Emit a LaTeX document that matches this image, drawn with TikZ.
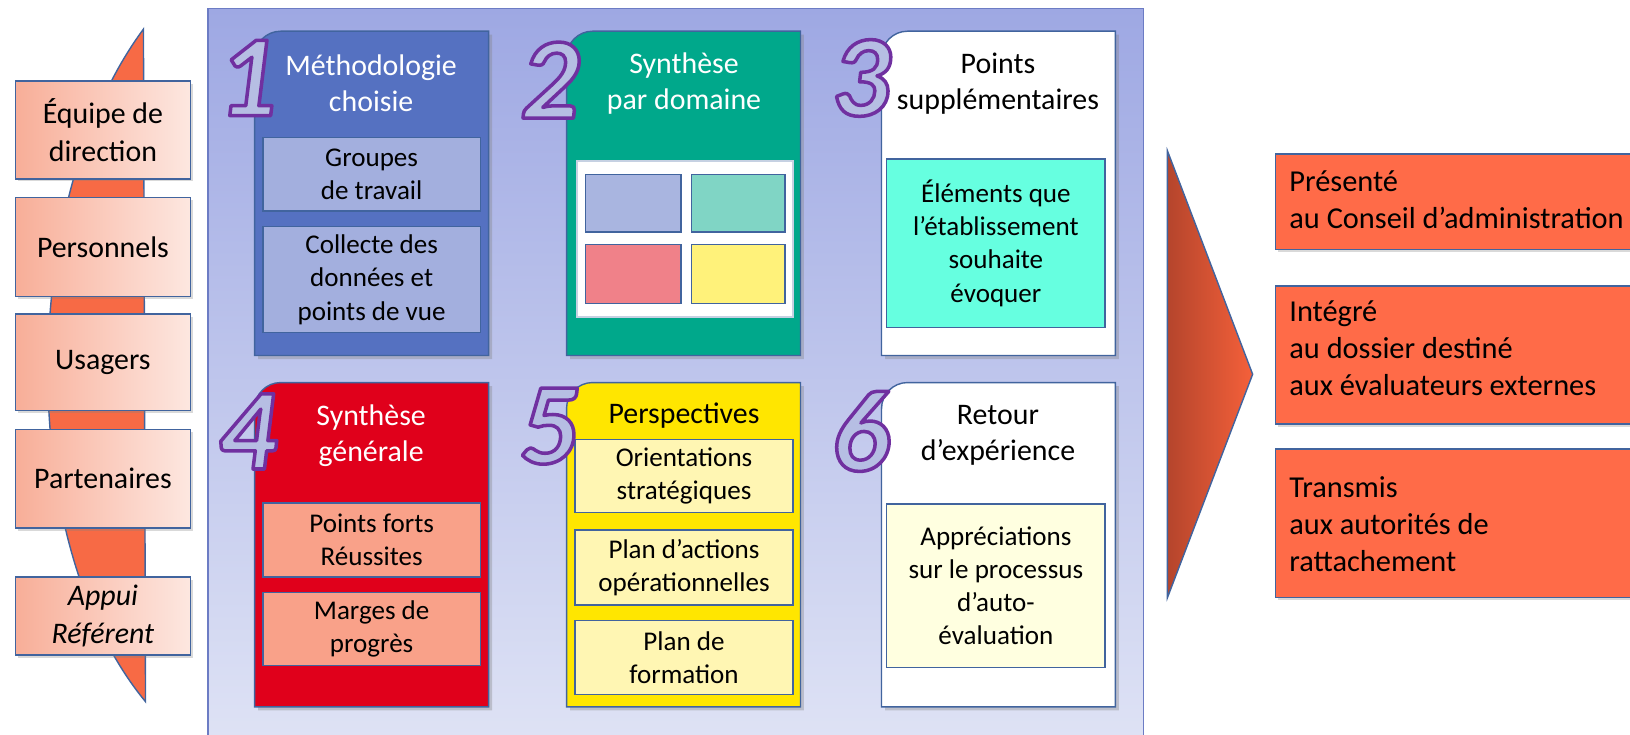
\documentclass[tikz,border=0pt]{standalone}
\usepackage{fontspec}
\setmainfont{Carlito}
\usetikzlibrary{positioning,shadows}

\definecolor{edgeblue}{HTML}{41649E}
\definecolor{panelTop}{HTML}{9EA8E3}
\definecolor{panelBot}{HTML}{DFE3F5}
\definecolor{panelEdge}{HTML}{6C7CC4}
\definecolor{lens}{HTML}{F76A45}
\definecolor{whoL}{HTML}{F8AE98}
\definecolor{whoR}{HTML}{FDE7E0}
\definecolor{methblue}{HTML}{5571C1}
\definecolor{methlight}{HTML}{A3AFDE}
\definecolor{domteal}{HTML}{00A88B}
\definecolor{domA}{HTML}{A9B5E0}
\definecolor{domB}{HTML}{80D5C5}
\definecolor{domC}{HTML}{F08189}
\definecolor{domD}{HTML}{FFF27A}
\definecolor{extra}{HTML}{66FFE0}
\definecolor{synred}{HTML}{E0001B}
\definecolor{synlight}{HTML}{F9A189}
\definecolor{perspyellow}{HTML}{FFE600}
\definecolor{persplight}{HTML}{FFF6B3}
\definecolor{retlight}{HTML}{FFFFE0}
\definecolor{arrowL}{HTML}{B5452C}
\definecolor{arrowR}{HTML}{F5603A}
\definecolor{destfill}{HTML}{FF6B48}
\definecolor{numfill}{HTML}{B6BEE3}

% outlined digit: fill then stroke, purple stroke
\newcommand{\outlined}[1]{\special{pdf:literal direct 0.439 0.188 0.627 RG 2 w 1 j 2 Tr}#1\special{pdf:literal direct 0 Tr}}

\begin{document}
\begin{tikzpicture}[x=0.208mm, y=-0.208mm,
  wh/.style 2 args = {minimum width=#1*0.208mm, minimum height=#2*0.208mm},
  box/.style = {draw=edgeblue, line width=0.8pt, inner sep=0pt, align=center},
  who/.style = {box, left color=whoL, right color=whoR, font=\fontsize{17}{21.5}\selectfont,
    drop shadow={shadow xshift=1.5pt, shadow yshift=-1.5pt, opacity=.3}},
  card/.style = {draw=edgeblue, line width=0.8pt,
    drop shadow={shadow xshift=2pt, shadow yshift=-2pt, opacity=.35}},
  head/.style = {align=center, font=\fontsize{17}{20.5}\selectfont},
  sub/.style = {box, font=\fontsize{15.4}{18.9}\selectfont},
  num/.style = {text=numfill, font=\fontsize{66}{66}\selectfont\bfseries\itshape, inner sep=0pt},
  dest/.style = {box, fill=destfill,
    drop shadow={shadow xshift=1.5pt, shadow yshift=-1.5pt, opacity=.3}},
  desttxt/.style = {anchor=west, align=left, inner sep=0pt, font=\fontsize{17.3}{21.2}\selectfont}]
\useasboundingbox (0,0) rectangle (1568,707);

% panel behind the six cards
\shade[top color=panelTop, bottom color=panelBot, draw=panelEdge, line width=0.8pt] (200,8) rectangle (1100,720);

% actors
\draw[draw=edgeblue, fill=lens, line width=0.8pt] (138,28) .. controls (18,190) and (12,520) .. (140,675) -- cycle;
\node[who, wh={168}{94}] (dir) at (99,125) {Équipe de\\direction};
\node[who, wh={168}{95}] (pers) at (99,237.5) {Personnels};
\node[who, wh={168}{93}] (usa) at (99,348.5) {Usagers};
\node[who, wh={168}{95}] (part) at (99,460.5) {Partenaires};
\node[who, wh={168}{75}, font=\fontsize{17}{21.5}\selectfont\itshape] (ref) at (99,592.5) {Appui\\Référent};

% cards
\foreach \x/\y/\c in {245/30/methblue, 545/30/domteal, 848/30/white, 245/368/synred, 545/368/perspyellow, 848/368/white}
  \path[card, fill=\c] (\x,\y+312) -- (\x,\y+25) .. controls (\x,\y+11.2) and (\x+11.2,\y) .. (\x+25,\y)
    -- (\x+225,\y) -- (\x+225,\y+312) -- cycle;

\node[head, text=white] (t1) at (357,80) {Méthodologie\\choisie};
\node[head, text=white] (t2) at (658,80) {Synthèse\\par domaine};
\node[head] (t3) at (960,80) {Points\\supplémentaires};
\node[head, text=white] (t4) at (357,419) {Synthèse\\générale};
\node[head] (t5) at (658,400) {Perspectives};
\node[head] (t6) at (960,419) {Retour\\d’expérience};

\node[sub, fill=methlight, wh={209}{71}] (grp) at (357.5,167.5) {Groupes\\de travail};
\node[sub, fill=methlight, wh={209}{102}] (coll) at (357.5,269) {Collecte des\\données et\\points de vue};

\node[sub, fill=white, draw=edgeblue!30, wh={208}{150}] (dom) at (659,230) {};
\node[sub, fill=domA, wh={92}{55}] (domA) at (609,195.5) {};
\node[sub, fill=domB, wh={90}{55}] (domB) at (710,195.5) {};
\node[sub, fill=domC, wh={92}{57}] (domC) at (609,263.5) {};
\node[sub, fill=domD, wh={90}{57}] (domD) at (710,263.5) {};

\node[sub, fill=extra, wh={210}{162}] (elem) at (958,234) {Éléments que\\l’établissement\\souhaite\\évoquer};

\node[sub, fill=synlight, wh={209}{71}] (forts) at (357.5,519.5) {Points forts\\Réussites};
\node[sub, fill=synlight, wh={209}{70}] (marges) at (357.5,605) {Marges de\\progrès};

\node[sub, fill=persplight, wh={210}{70}] (orient) at (658,458) {Orientations\\stratégiques};
\node[sub, fill=persplight, wh={210}{72}] (actions) at (658,546) {Plan d’actions\\opérationnelles};
\node[sub, fill=persplight, wh={210}{71}] (form) at (658,632.5) {Plan de\\formation};

\node[sub, fill=retlight, wh={210}{157}] (appr) at (958,563.5) {Appréciations\\sur le processus\\d’auto-\\évaluation};

% step numbers
\node[num] (n1) at (238,75) {\outlined{1}};
\node[num] (n2) at (529,77) {\outlined{2}};
\node[num] (n3) at (828,75) {\outlined{3}};
\node[num] (n4) at (238,415) {\outlined{4}};
\node[num] (n5) at (528,410) {\outlined{5}};
\node[num] (n6) at (828,415) {\outlined{6}};

% outcome
\shade[left color=arrowL, right color=arrowR, draw=edgeblue, line width=0.8pt] (1123,145) -- (1205,360) -- (1123,575) -- cycle;
\node[dest, wh={393}{92}] (pres) at (1423.5,194) {};
\node[desttxt] (prestxt) at (1240,192) {Présenté\\au Conseil d’administration};
\node[dest, wh={393}{133}] (integ) at (1423.5,341.5) {};
\node[desttxt] (integtxt) at (1240,335) {Intégré\\au dossier destiné\\aux évaluateurs externes};
\node[dest, wh={393}{143}] (trans) at (1423.5,503.5) {};
\node[desttxt] (transtxt) at (1240,504) {Transmis\\aux autorités de\\rattachement};
\end{tikzpicture}
\end{document}
